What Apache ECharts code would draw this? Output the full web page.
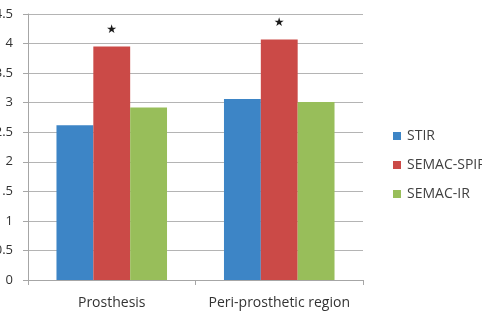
<!DOCTYPE html>
<html>
<head>
<meta charset="utf-8">
<script src="https://cdn.jsdelivr.net/npm/echarts@6/dist/echarts.min.js"></script>
<style>
  html, body { margin: 0; padding: 0; background: #fff; }
  #chart { width: 482px; height: 312px; }
</style>
</head>
<body>
<div id="chart"></div>
<script>
// data
const categories = ["Prosthesis", "Peri-prosthetic region"];
const seriesNames = ["STIR", "SEMAC-SPIR", "SEMAC-IR"];
const stir = [2.62, 3.06];
const semacSpir = [3.95, 4.07];
const semacIr = [2.92, 3.01];
const yTicks = { min: 0, max: 4.5, interval: 0.5 };

const colors = ["#3d85c6", "#cb4a47", "#98be5a"];
const font = "'Open Sans', 'Noto Sans', sans-serif";

let myChart = echarts.init(document.getElementById("chart"));
myChart.setOption({
  animation: false,
  color: colors,
  grid: { left: 28, right: 119, top: 14, bottom: 32, outerBoundsMode: "none", containLabel: false },
  legend: {
    data: seriesNames,
    orient: "vertical",
    left: 388,
    top: 124,
    itemWidth: 8,
    itemHeight: 8,
    itemGap: 15,
    icon: "rect",
    textStyle: { color: "#404040", fontSize: 14, fontFamily: font, padding: [0, 0, 0, 1] }
  },
  xAxis: {
    type: "category",
    data: categories,
    axisLine: { lineStyle: { color: "#a6a6a6" } },
    axisTick: { show: true, length: 5, lineStyle: { color: "#a6a6a6" } },
    axisLabel: { color: "#333", fontSize: 14, fontFamily: font, margin: 16, interval: 0 }
  },
  yAxis: {
    type: "value",
    min: yTicks.min,
    max: yTicks.max,
    interval: yTicks.interval,
    axisLine: { show: true, lineStyle: { color: "#a6a6a6" } },
    axisTick: { show: true, length: 5, lineStyle: { color: "#a6a6a6" } },
    axisLabel: { color: "#333", fontSize: 13, fontFamily: font, margin: 15 },
    splitLine: { lineStyle: { color: "#b4b4b4" } }
  },
  series: [
    { name: seriesNames[0], type: "bar", data: stir, barGap: "0%", barCategoryGap: "34%" },
    {
      name: seriesNames[1], type: "bar", data: semacSpir, barGap: "0%", barCategoryGap: "34%",
      // significance marker above each red bar
      label: {
        show: true,
        position: "top",
        distance: 11,
        formatter: "★",
        color: "#1a1a1a",
        fontSize: 12,
        fontFamily: "'DejaVu Sans', sans-serif"
      }
    },
    { name: seriesNames[2], type: "bar", data: semacIr, barGap: "0%", barCategoryGap: "34%" }
  ]
});
</script>
</body>
</html>
